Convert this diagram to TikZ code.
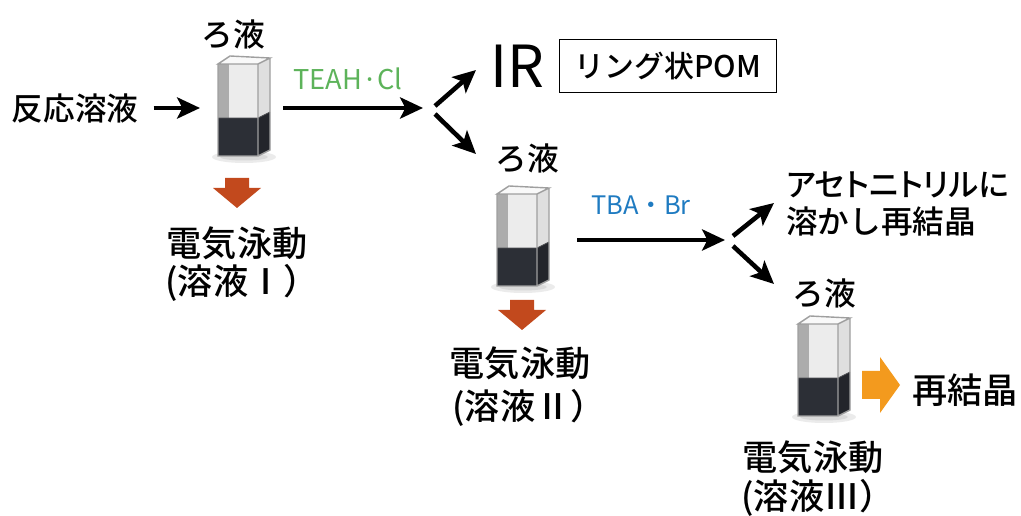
\documentclass[tikz,border=0pt]{standalone}
\usepackage{fontspec}
\setmainfont{Noto Sans CJK JP}[UprightFont=* Medium]
\newfontfamily\propfont{Noto Sans CJK JP}[UprightFont=* Medium, RawFeature=+palt]
\newfontfamily\latinfont{Noto Sans CJK JP}
\usetikzlibrary{arrows.meta}

\definecolor{liquid}{HTML}{2C2F36}
\definecolor{dropred}{HTML}{C2491D}
\definecolor{arrorange}{HTML}{F39A1E}
\definecolor{teahgreen}{HTML}{5DB35A}
\definecolor{tbablue}{HTML}{1F7BC1}

\tikzset{
  jp/.style={font=\fontsize{18pt}{21.6pt}\selectfont, inner sep=0pt},
  ep/.style={font=\fontsize{20pt}{24pt}\selectfont, inner sep=0pt},
  flow/.style={line width=2.6pt, -{Stealth[length=13pt,width=12pt,inset=3pt]}},
  cuvette/.pic={
    % shadow under the cell
    \fill[black!8] (26,101) ellipse (32 and 6);
    \fill[black!15] (26,101) ellipse (24 and 3.5);
    % glass
    \fill[gray!15] (0,8) rectangle (40,100);
    \fill[gray!65] (0,8) rectangle (11,100);
    \fill[gray!25] (40,8) -- (52,2) -- (52,94) -- (40,100) -- cycle;
    \fill[gray!5] (0,8) -- (12,0) -- (52,2) -- (40,8) -- cycle;
    % solution
    \fill[liquid] (0,62) rectangle (40,100);
    \fill[liquid!80!black] (40,62) -- (52,56) -- (52,94) -- (40,100) -- cycle;
    \draw[liquid!60!gray, line width=.5pt] (0,62) -- (40,62) -- (52,56);
    % edges
    \draw[gray!75, line width=.8pt] (0,8) -- (12,0) -- (52,2) -- (40,8) -- cycle
      (0,8) -- (0,100) -- (40,100) -- (52,94) -- (52,2) (40,8) -- (40,100);
  },
  drop/.pic={
    \fill[dropred] (-12,0) -- (12,0) -- (12,10) -- (24,10) -- (0,30)
      -- (-24,10) -- (-12,10) -- cycle;
  }
}

\begin{document}
\begin{tikzpicture}[x=0.02cm, y=-0.02cm]
  \useasboundingbox (0,0) rectangle (1021,516);

  % Coordinates
  \coordinate (cell1) at (218,56);
  \coordinate (cell2) at (497,186);
  \coordinate (cell3) at (798,316);
  \coordinate (c1in) at (200,108);
  \coordinate (c1out) at (283,108);
  \coordinate (split1) at (423,108);
  \coordinate (up1s) at (435,106);
  \coordinate (up1e) at (476,70);
  \coordinate (dn1s) at (435,114);
  \coordinate (dn1e) at (476,154);
  \coordinate (c2out) at (577,240);
  \coordinate (split2) at (725,240);
  \coordinate (up2s) at (733,236);
  \coordinate (up2e) at (774,203);
  \coordinate (dn2s) at (733,246);
  \coordinate (dn2e) at (774,284);

  % Texts
  \node[jp] (feed) at (75,108) {反応溶液};
  \node[jp] (filt1) at (233,34) {ろ液};
  \node[ep] (ep1) at (237,243) {電気泳動};
  \node[ep, anchor=west] (sol1) at (165,283) {(溶液Ⅰ）};
  \node[font=\latinfont\fontsize{15.5pt}{18pt}\selectfont, text=teahgreen, inner sep=0pt]
    (teah) at (348,79) {TEAH·Cl};
  \node[font=\latinfont\fontsize{33pt}{36pt}\selectfont, inner sep=0pt] (ir) at (517,66) {IR};
  \node[draw, line width=1.1pt, minimum width=4.34cm, minimum height=1.06cm,
    font=\fontsize{17pt}{20pt}\selectfont] (pom) at (668,66) {リング状POM};
  \node[jp] (filt2) at (527,158) {ろ液};
  \node[ep] (ep2) at (520,363) {電気泳動};
  \node[ep, anchor=west] (sol2) at (452,408) {(溶液Ⅱ）};
  \node[font=\latinfont\fontsize{14.5pt}{17pt}\selectfont, text=tbablue, inner sep=0pt]
    (tba) at (641,205) {TBA・Br};
  \node[jp, anchor=west, align=left] (recry) at (786,204)
    {{\propfont アセトニトリルに}\\溶かし再結晶};
  \node[jp] (filt3) at (824,293) {ろ液};
  \node[ep] (ep3) at (813,457) {電気泳動};
  \node[ep, anchor=west] (sol3) at (741,498) {(溶液Ⅲ）};
  \node[ep] (crystal) at (965,390) {再結晶};

  % Drawing
  \pic at (cell1) {cuvette};
  \pic at (cell2) {cuvette};
  \pic at (cell3) {cuvette};
  \pic at (237,178) {drop};
  \pic at (522,300) {drop};
  \fill[arrorange] (862,371) -- (880,371) -- (880,357) -- (900,385)
    -- (880,413) -- (880,399) -- (862,399) -- cycle;

  \draw[flow, shorten <=0.3cm] (feed.east) -- (c1in);
  \draw[flow] (c1out) -- (split1);
  \draw[flow] (up1s) -- (up1e);
  \draw[flow] (dn1s) -- (dn1e);
  \draw[flow] (c2out) -- (split2);
  \draw[flow] (up2s) -- (up2e);
  \draw[flow] (dn2s) -- (dn2e);
\end{tikzpicture}
\end{document}
